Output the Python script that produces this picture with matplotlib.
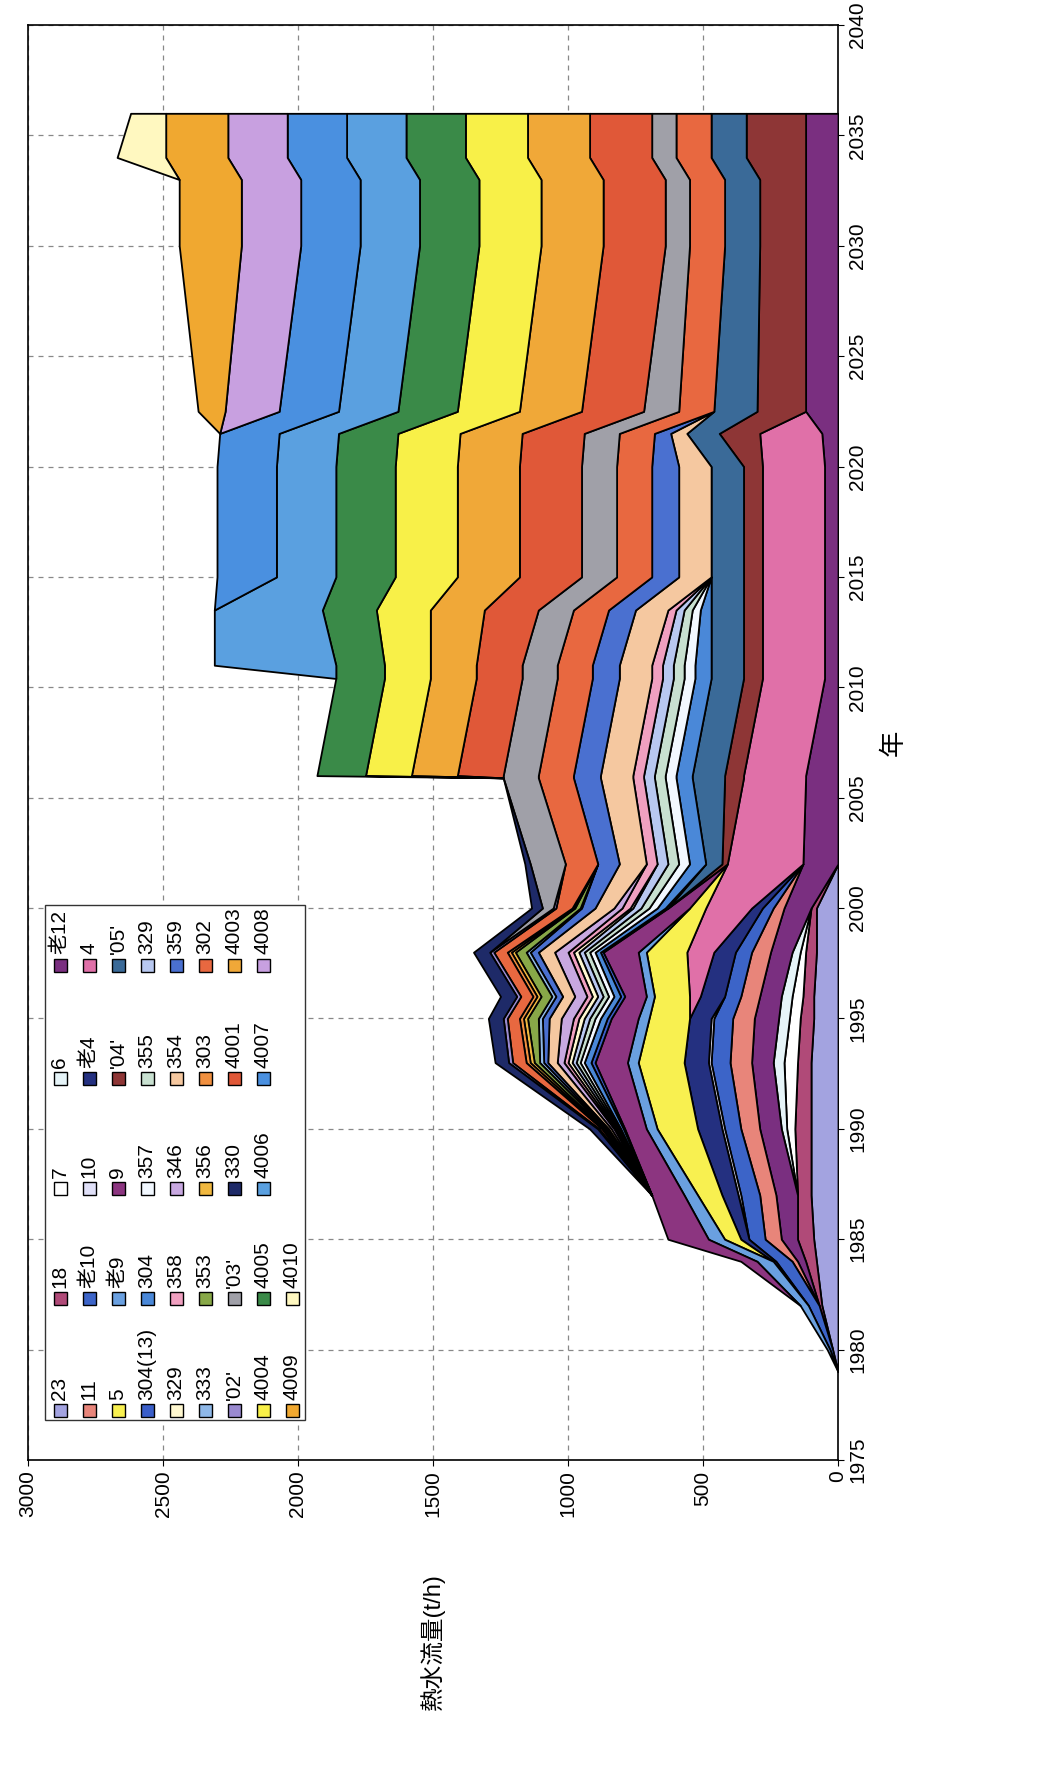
import matplotlib
matplotlib.use("Agg")
import matplotlib.pyplot as plt
import numpy as np
from matplotlib.patches import Rectangle

plt.rcParams['font.family'] = ['Liberation Sans', 'Noto Sans CJK JP', 'DejaVu Sans']

YEARS = [1979, 1980, 1982, 1984, 1985, 1987, 1990, 1993, 1995, 1996, 1998, 2000, 2002,
         2005.9, 2006, 2010.4, 2011, 2013.5, 2015, 2020, 2021.5, 2022.5, 2030, 2033, 2034, 2036]

NAMES = ["23", "18", "7", "6", "老12",
         "11", "老10", "10", "老4", "4",
         "5", "老9", "9", "'04'", "'05'",
         "304(13)", "304", "357", "355", "329",
         "329", "358", "346", "354", "359",
         "333", "353", "356", "303", "302",
         "'02'", "'03'", "330", "4001", "4003",
         "4004", "4005", "4006", "4007", "4008",
         "4009", "4010"]

COLORS = ["#a3a3e0", "#b04a78", "#ffffff", "#e6f4f8", "#7a2f80",
          "#e8857a", "#3c64c8", "#e0e0f8", "#243080", "#e070a8",
          "#f8f050", "#6aa0e0", "#8c3580", "#8e3636", "#3a6a98",
          "#3a5ec8", "#4a88d8", "#f2f8ff", "#c8e0d0", "#b8c8f0",
          "#fff8d0", "#f0a0c0", "#c8a8e0", "#f5c8a0", "#4a70d0",
          "#8fb8e8", "#88a848", "#f0b840", "#f09040", "#e86840",
          "#9a8ad0", "#a0a0a8", "#1e2a68", "#e05838", "#f0a838",
          "#f8f048", "#3a8a48", "#5aa0e0", "#4a90e0", "#c8a0e0",
          "#f0a830", "#fff8c0"]

z13 = [0] * 13
V = {}
V["23"] = [0, 20, 60, 80, 90, 100, 100, 100, 90, 90, 80, 80, 0] + [0] * 13
V["18"] = [0, 0, 10, 40, 60, 50, 60, 50, 50, 40, 40, 20, 0] + [0] * 13
V["7"] = [0, 0, 0, 0, 0, 0, 30, 50, 40, 40, 20, 0, 0] + [0] * 13
V["6"] = [0, 0, 0, 0, 0, 0, 20, 40, 40, 40, 30, 0, 0] + [0] * 13
V["老12"] = [0, 0, 0, 30, 60, 80, 80, 80, 90, 80, 80, 100, 130] + [120, 120, 50, 50, 50, 50, 50, 60, 120, 120, 120, 120, 120]
V["11"] = [0, 0, 0, 20, 60, 60, 70, 80, 80, 70, 70, 40, 0] + [0] * 13
V["老10"] = [0, 10, 40, 60, 60, 70, 60, 70, 70, 60, 60, 40, 0] + [0] * 13
V["10"] = [0, 0, 0, 0, 0, 10, 10, 10, 10, 0, 0, 0, 0] + [0] * 13
V["老4"] = [0, 0, 0, 10, 30, 60, 90, 90, 80, 90, 80, 40, 0] + [0] * 13
V["4"] = [0, 0, 0, 0, 0, 0, 0, 0, 0, 40, 100, 170, 280] + [230, 230, 230, 230, 230, 230, 230, 230, 0, 0, 0, 0, 0]
V["5"] = [0, 0, 0, 0, 60, 90, 150, 170, 150, 130, 150, 60, 0] + [0] * 13
V["老9"] = [0, 10, 30, 60, 60, 50, 40, 40, 40, 30, 30, 0, 0] + [0] * 13
V["9"] = [0, 0, 0, 60, 150, 120, 80, 120, 100, 80, 130, 80, 0] + [0] * 13
V["'04'"] = [0] * 12 + [20] + [70, 70, 70, 70, 70, 70, 70, 150, 180, 170, 170, 220, 220]
V["'05'"] = [0] * 12 + [60] + [120, 120, 120, 120, 120, 120, 120, 120, 160, 130, 130, 130, 130]
V["304(13)"] = [0, 0, 0, 0, 0, 0, 5, 15, 15, 15, 10, 10, 0] + [0] * 13
V["304"] = [0, 0, 0, 0, 0, 0, 10, 25, 25, 25, 20, 30, 60] + [60, 60, 60, 60, 40, 0, 0, 0, 0, 0, 0, 0, 0]
V["357"] = [0, 0, 0, 0, 0, 0, 5, 15, 20, 20, 20, 30, 40] + [40, 40, 40, 40, 30, 0, 0, 0, 0, 0, 0, 0, 0]
V["355"] = [0, 0, 0, 0, 0, 0, 5, 15, 20, 20, 20, 30, 40] + [40, 40, 40, 40, 30, 0, 0, 0, 0, 0, 0, 0, 0]
V["329a"] = [0, 0, 0, 0, 0, 0, 5, 15, 20, 20, 20, 30, 40] + [40, 40, 40, 40, 30, 0, 0, 0, 0, 0, 0, 0, 0]
V["329b"] = [0, 0, 0, 0, 0, 0, 5, 15, 20, 20, 20, 10, 0] + [0] * 13
V["358"] = [0, 0, 0, 0, 0, 0, 5, 15, 20, 20, 20, 30, 40] + [40, 40, 40, 40, 30, 0, 0, 0, 0, 0, 0, 0, 0]
V["346"] = [0, 0, 0, 0, 0, 0, 10, 25, 45, 45, 50, 30, 0] + [0] * 13
V["354"] = [0, 0, 0, 0, 0, 0, 10, 35, 45, 45, 60, 70, 100] + [120, 120, 120, 120, 120, 120, 120, 60, 0, 0, 0, 0, 0]
V["359"] = [0, 0, 0, 0, 0, 0, 5, 15, 25, 25, 30, 50, 80] + [100, 100, 100, 100, 100, 100, 100, 60, 0, 0, 0, 0, 0]
V["333"] = [0, 0, 0, 0, 0, 0, 5, 15, 15, 15, 15, 5, 0] + [0] * 13
V["353"] = [0, 0, 0, 0, 0, 0, 5, 20, 40, 40, 40, 20, 0] + [0] * 13
V["356"] = [0, 0, 0, 0, 0, 0, 5, 15, 15, 15, 15, 5, 0] + [0] * 13
V["303"] = [0, 0, 0, 0, 0, 0, 5, 15, 15, 15, 15, 5, 0] + [0] * 13
V["302"] = [0, 0, 0, 0, 0, 0, 10, 50, 45, 45, 50, 60, 120] + [130] * 13
V["'02'"] = [0, 0, 0, 0, 0, 0, 5, 15, 15, 15, 15, 10, 0] + [0] * 13
V["'03'"] = [0] * 11 + [40, 130] + [130, 130, 130, 130, 130, 130, 130, 130, 130, 90, 90, 90, 90]
V["330"] = [0, 0, 0, 0, 0, 0, 30, 50, 55, 60, 60, 40, 20] + [0] * 13
V["4001"] = z13 + [0, 170, 170, 170, 200, 230, 230, 230, 230, 230, 230, 230, 230]
V["4003"] = z13 + [0, 170, 170, 170, 200, 230, 230, 230, 230, 230, 230, 230, 230]
V["4004"] = z13 + [0, 170, 170, 170, 200, 230, 230, 230, 230, 230, 230, 230, 230]
V["4005"] = z13 + [0, 180, 180, 180, 200, 220, 220, 220, 220, 220, 220, 220, 220]
V["4006"] = z13 + [0, 0, 0, 450, 400, 220, 220, 220, 220, 220, 220, 220, 220]
V["4007"] = z13 + [0, 0, 0, 0, 0, 220, 220, 220, 220, 220, 220, 220, 220]
V["4008"] = z13 + [0, 0, 0, 0, 0, 0, 0, 0, 200, 220, 220, 220, 220]
V["4009"] = z13 + [0, 0, 0, 0, 0, 0, 0, 0, 100, 230, 230, 230, 230]
V["4010"] = z13 + [0, 0, 0, 0, 0, 0, 0, 0, 0, 0, 0, 180, 130]

KEYS = ["23", "18", "7", "6", "老12", "11", "老10", "10", "老4", "4",
        "5", "老9", "9", "'04'", "'05'", "304(13)", "304", "357", "355", "329a",
        "329b", "358", "346", "354", "359", "333", "353", "356", "303", "302",
        "'02'", "'03'", "330", "4001", "4003", "4004", "4005", "4006", "4007", "4008",
        "4009", "4010"]

fig = plt.figure(figsize=(10.45, 17.86), dpi=100)
L, R, T, B = 28, 838, 25, 1460
ax = fig.add_axes([L / 1045, 1 - B / 1786, (R - L) / 1045, (B - T) / 1786])

yrs = np.array(YEARS)
base = np.zeros(len(yrs))
for k, c in zip(KEYS, COLORS):
    v = np.array(V[k], dtype=float)
    top = base + v
    mask = (v > 0)
    m = mask.copy()
    m[1:] |= mask[:-1]
    m[:-1] |= mask[1:]
    if m.any():
        ax.fill_betweenx(yrs, base, top, where=m, color=c, edgecolor='black',
                         linewidth=1.3, interpolate=False, zorder=3)
    base = top

ax.set_xlim(3000, 0)
ax.set_ylim(1975, 2040)
ax.set_xticks(np.arange(0, 3001, 500))
ax.set_yticks(np.arange(1975, 2041, 5))
ax.yaxis.tick_right()
ax.yaxis.set_label_position('right')
ax.grid(True, linestyle=(0, (4, 4)), color='#888888', linewidth=0.9, zorder=0)
ax.tick_params(axis='x', labelrotation=90, labelsize=15, length=4)
ax.tick_params(axis='y', labelrotation=90, labelsize=15, length=4)
for lab in ax.get_yticklabels():
    lab.set_va('center')
for sp in ax.spines.values():
    sp.set_linewidth(1.2)
ax.set_xlabel("熱水流量(t/h)", rotation=90, fontsize=17, labelpad=40)
ax.set_ylabel("年", rotation=90, fontsize=19, labelpad=10)


def axfrac(px, py):
    return ((px - L) / (R - L), (B - py) / (B - T))


x0, y0 = axfrac(45, 1420)
x1, y1 = axfrac(305, 905)
ax.add_patch(Rectangle((x0, y0), x1 - x0, y1 - y0, transform=ax.transAxes,
                       facecolor='white', edgecolor='#333333', linewidth=1.0, zorder=5))
line_x = [60 + 29 * i for i in range(9)]
item_y = [1410, 1298, 1188, 1078, 965]
for i, (name, c) in enumerate(zip(NAMES, COLORS)):
    row, col = divmod(i, 5)
    fx, fy = axfrac(line_x[row], item_y[col])
    hx = 13 / (R - L)
    hy = 13 / (B - T)
    ax.add_patch(Rectangle((fx - hx / 2, fy - hy / 2), hx, hy, transform=ax.transAxes,
                           facecolor=c, edgecolor='black', linewidth=1.0, zorder=6))
    ax.text(fx, fy + hy / 2 + 4 / (B - T), name, transform=ax.transAxes, rotation=90,
            rotation_mode='anchor', ha='left', va='center', fontsize=15, zorder=7)

fig.savefig("out.png", dpi=100)
